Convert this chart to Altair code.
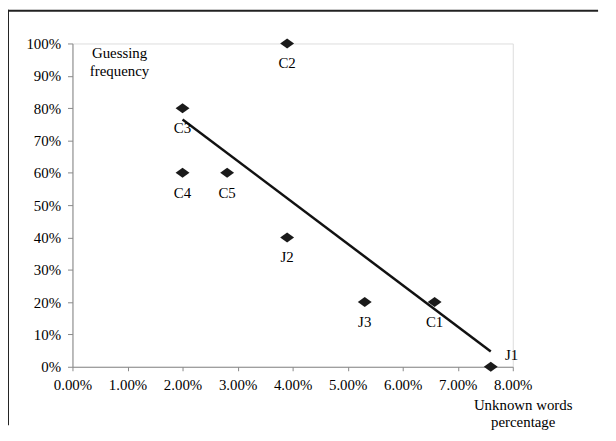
import altair as alt
import pandas as pd

labels = ["C1", "C2", "C3", "C4", "C5", "J1", "J2", "J3"]
unknown_pct = [0.0658, 0.039, 0.020, 0.020, 0.0281, 0.076, 0.039, 0.0531]
guess_freq = [0.20, 1.00, 0.80, 0.60, 0.60, 0.00, 0.40, 0.20]
x_ticks = [0, 0.01, 0.02, 0.03, 0.04, 0.05, 0.06, 0.07, 0.08]
y_ticks = [0, 0.1, 0.2, 0.3, 0.4, 0.5, 0.6, 0.7, 0.8, 0.9, 1.0]

df = pd.DataFrame({"label": labels, "x": unknown_pct, "y": guess_freq})

FONT = "Liberation Serif"
FS = 15

xscale = alt.Scale(domain=[0, 0.08], nice=False, zero=True)
yscale = alt.Scale(domain=[0, 1], nice=False)

x_enc = alt.X(
    "x:Q", scale=xscale,
    axis=alt.Axis(
        format=".2%", values=x_ticks,
        title=["Unknown words", "percentage"], titleX=454, titleY=31,
        titleAlign="center", titleBaseline="top", titleAnchor="start",
        titleFontWeight="normal", titleFont=FONT, titleFontSize=FS, titleLineHeight=17,
        labelFont=FONT, labelFontSize=FS, labelColor="#000", labelOverlap=False,
        tickSize=4, labelPadding=7, domainColor="#888", tickColor="#888",
        grid=False, labelFlush=False,
    ),
)
y_enc = alt.Y(
    "y:Q", scale=yscale,
    axis=alt.Axis(
        format=".0%", values=y_ticks,
        title=["Guessing", "frequency"], titleX=47, titleY=2, titleAngle=0,
        titleAlign="center", titleBaseline="top", titleAnchor="start",
        titleFontWeight="normal", titleFont=FONT, titleFontSize=FS, titleLineHeight=18,
        labelFont=FONT, labelFontSize=FS, labelColor="#000", labelOverlap=False,
        tickSize=5, labelPadding=7, domainColor="#888", tickColor="#888",
        grid=False, labelFlush=False,
    ),
)

base = alt.Chart(df)

points = base.mark_point(
    shape="M-1,0L0,-0.72L1,0L0,0.72Z", size=196, filled=True, color="#1a1a1a", opacity=1
).encode(x=x_enc, y=y_enc)

trend = base.transform_regression("x", "y").mark_line(
    color="#111", strokeWidth=2.5
).encode(x=x_enc, y=y_enc)

text_main = base.transform_filter(alt.datum.label != "J1").mark_text(
    font=FONT, fontSize=FS, dy=20, baseline="middle", color="#000"
).encode(x=x_enc, y=y_enc, text="label:N")

text_j1 = base.transform_filter(alt.datum.label == "J1").mark_text(
    font=FONT, fontSize=FS, dx=21, dy=-12, baseline="middle", color="#000"
).encode(x=x_enc, y=y_enc, text="label:N")

frame = alt.Chart(df.head(1))
frame_left = frame.mark_rect(color="#222").encode(
    x=alt.value(-66), x2=alt.value(-64), y=alt.value(-34), y2=alt.value(385)
)
frame_top = frame.mark_rect(color="#222").encode(
    x=alt.value(-66), x2=alt.value(530), y=alt.value(-34), y2=alt.value(-32)
)

chart = alt.layer(points, trend, text_main, text_j1, frame_left, frame_top).properties(
    width=444, height=326,
    padding={"left": 65, "top": 34, "right": 96, "bottom": 64},
    autosize=alt.AutoSizeParams(type="none"),
).configure_view(stroke=None).configure(background="white")

chart.save("out.html", embed_options={"renderer": "svg", "actions": False})
